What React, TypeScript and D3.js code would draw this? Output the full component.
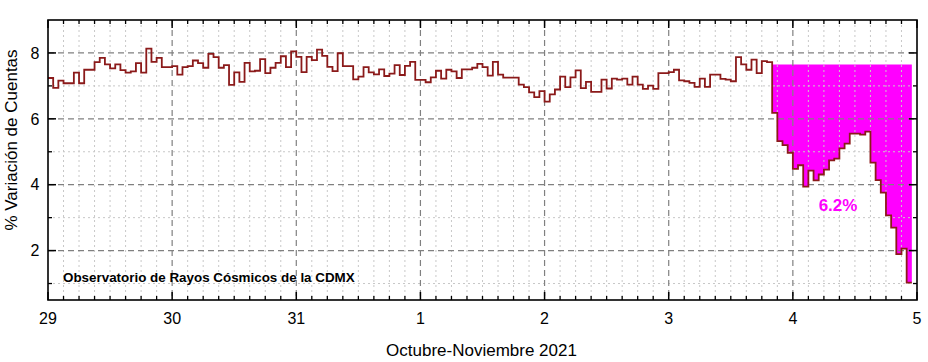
import React from "react";
import * as d3 from "d3";

// hourly % variation, one array per day
const oct29 = [7.24, 6.94, 7.16, 7.08, 7.08, 7.40, 7.08, 7.49, 7.49, 7.72, 7.85, 7.65, 7.53, 7.65, 7.48, 7.40, 7.44, 7.69, 7.40, 8.13, 7.73, 7.85, 7.57, 7.57];
const oct30 = [7.60, 7.34, 7.57, 7.60, 7.77, 7.69, 7.55, 7.97, 7.87, 7.55, 7.63, 7.03, 7.41, 7.12, 7.70, 7.44, 7.46, 7.81, 7.39, 7.55, 7.70, 7.90, 7.57, 8.05];
const oct31 = [7.88, 7.42, 7.88, 7.78, 8.10, 7.91, 7.58, 7.45, 7.99, 7.60, 7.60, 7.20, 7.28, 7.57, 7.41, 7.35, 7.50, 7.30, 7.37, 7.63, 7.33, 7.61, 7.73, 7.18];
const nov1 = [7.18, 7.11, 7.26, 7.46, 7.22, 7.49, 7.44, 7.24, 7.50, 7.50, 7.55, 7.67, 7.57, 7.31, 7.73, 7.34, 7.25, 7.25, 7.25, 7.04, 6.96, 6.80, 6.66, 6.84];
const nov2 = [6.52, 6.74, 6.89, 7.28, 6.96, 7.26, 7.47, 6.93, 7.12, 6.82, 6.82, 7.19, 6.92, 7.22, 7.19, 7.22, 7.04, 7.28, 7.04, 6.91, 7.01, 6.91, 7.39, 7.39];
const nov3 = [7.42, 7.49, 7.17, 7.14, 7.09, 6.97, 7.22, 6.97, 7.34, 7.34, 7.21, 7.19, 7.14, 7.87, 7.65, 7.49, 7.80, 7.39, 7.75, 7.72, 6.18, 5.32, 5.20, 4.97];
const nov4 = [4.48, 4.59, 3.94, 4.43, 4.13, 4.31, 4.46, 4.74, 4.79, 5.10, 5.25, 5.55, 5.55, 5.52, 5.61, 4.67, 4.14, 3.76, 3.07, 2.70, 1.89, 2.06, 1.03];

const dayLabels = ["29", "30", "31", "1", "2", "3", "4", "5"];
const yMajor = [2, 4, 6, 8];
const yMinor = [1, 3, 5, 7];

// Forbush decrease: level before the drop and the hour where it starts
const preLevel = 7.65;
const dropStartHour = 140;
const dropLabel = "6.2%";

const W = 928, H = 362;
const m = { left: 48, right: 11, top: 20, bottom: 62 };
const font = "'Liberation Sans', Arial, sans-serif";

export default function App() {
  const values = [...oct29, ...oct30, ...oct31, ...nov1, ...nov2, ...nov3, ...nov4];
  const pts: [number, number][] = values.map((v, i) => [i, v]);
  pts.push([values.length, values[values.length - 1]]);

  const x = d3.scaleLinear().domain([0, 168]).range([m.left, W - m.right]);
  const y = d3.scaleLinear().domain([0.5, 9]).range([H - m.bottom, m.top]);

  const line = d3.line<[number, number]>()
    .x(d => x(d[0])).y(d => y(d[1]))
    .curve(d3.curveStepAfter);

  const area = d3.area<[number, number]>()
    .x(d => x(d[0])).y0(y(preLevel)).y1(d => y(d[1]))
    .curve(d3.curveStepAfter);

  const dropPts = pts.filter(d => d[0] >= dropStartHour);

  const dayTicks = d3.range(0, 169, 24);
  const minorX = d3.range(0, 169, 3).filter(h => h % 24 !== 0);
  const x0 = x(0), x1 = x(168), yTop = y(9), yBot = y(0.5);

  return (
    <div style={{ position: "absolute", left: 0, top: 0 }}>
      <svg width={W} height={H} style={{ display: "block", fontFamily: font }}>
        <rect width={W} height={H} fill="#fff" />
        <path d={area(dropPts) || ""} fill="#ff00ff" />
        {/* grid */}
        {minorX.map(h => (
          <line key={"gx" + h} x1={x(h)} x2={x(h)} y1={yTop} y2={yBot} stroke="#c8c8c8" strokeWidth={1} strokeDasharray="2,3" />
        ))}
        {yMinor.map(v => (
          <line key={"gy" + v} x1={x0} x2={x1} y1={y(v)} y2={y(v)} stroke="#c8c8c8" strokeWidth={1} strokeDasharray="2,3" />
        ))}
        {dayTicks.slice(1, -1).map(h => (
          <line key={"GX" + h} x1={x(h)} x2={x(h)} y1={yTop} y2={yBot} stroke="#808080" strokeWidth={1.2} strokeDasharray="6,4" />
        ))}
        {yMajor.map(v => (
          <line key={"GY" + v} x1={x0} x2={x1} y1={y(v)} y2={y(v)} stroke="#808080" strokeWidth={1.2} strokeDasharray="6,4" />
        ))}

        <path d={line(pts) || ""} fill="none" stroke="#8b1a1a" strokeWidth={1.8} />

        {/* frame and inward ticks */}
        <rect x={x0} y={yTop} width={x1 - x0} height={yBot - yTop} fill="none" stroke="#000" strokeWidth={1.6} />
        {dayTicks.map(h => (
          <g key={"tx" + h}>
            <line x1={x(h)} x2={x(h)} y1={yBot} y2={yBot - 8} stroke="#000" strokeWidth={1.5} />
            <line x1={x(h)} x2={x(h)} y1={yTop} y2={yTop + 8} stroke="#000" strokeWidth={1.5} />
          </g>
        ))}
        {minorX.map(h => (
          <g key={"mx" + h}>
            <line x1={x(h)} x2={x(h)} y1={yBot} y2={yBot - 4} stroke="#000" strokeWidth={1.3} />
            <line x1={x(h)} x2={x(h)} y1={yTop} y2={yTop + 4} stroke="#000" strokeWidth={1.3} />
          </g>
        ))}
        {yMajor.map(v => (
          <g key={"ty" + v}>
            <line x1={x0} x2={x0 + 8} y1={y(v)} y2={y(v)} stroke="#000" strokeWidth={1.5} />
            <line x1={x1} x2={x1 - 8} y1={y(v)} y2={y(v)} stroke="#000" strokeWidth={1.5} />
          </g>
        ))}
        {yMinor.map(v => (
          <g key={"my" + v}>
            <line x1={x0} x2={x0 + 4} y1={y(v)} y2={y(v)} stroke="#000" strokeWidth={1.3} />
            <line x1={x1} x2={x1 - 4} y1={y(v)} y2={y(v)} stroke="#000" strokeWidth={1.3} />
          </g>
        ))}

        {/* tick labels */}
        {dayTicks.map((h, i) => (
          <text key={"lx" + h} x={x(h)} y={yBot + 23.5} textAnchor="middle" fontSize={16}>{dayLabels[i]}</text>
        ))}
        {yMajor.map(v => (
          <text key={"ly" + v} x={x0 - 8.5} y={y(v) + 5.7} textAnchor="end" fontSize={16}>{v}</text>
        ))}

        <text x={481.5} y={356} textAnchor="middle" fontSize={17}>Octubre-Noviembre 2021</text>
        <text transform={`translate(17,${140}) rotate(-90)`} textAnchor="middle" fontSize={17}>% Variación de Cuentas</text>

        <text x={63} y={281.5} fontSize={13.4} fontWeight="bold">Observatorio de Rayos Cósmicos de la CDMX</text>
        <text x={838} y={211} textAnchor="middle" fontSize={17} fontWeight="bold" fill="#ff00ff">{dropLabel}</text>
      </svg>
    </div>
  );
}
